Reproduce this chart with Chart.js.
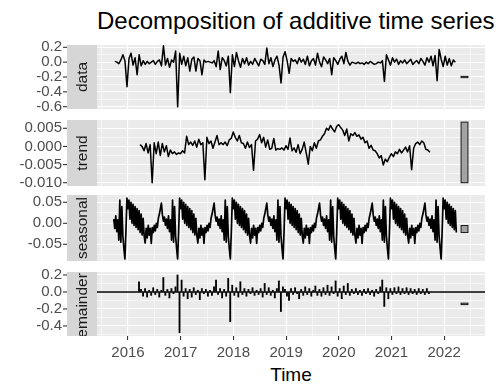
<!DOCTYPE html>
<html>
<head>
<meta charset="utf-8">
<script src="https://cdn.jsdelivr.net/npm/chart.js@4.4.1/dist/chart.umd.min.js"></script>
<style>
html,body{margin:0;padding:0;background:#fff;}
body{width:504px;height:385px;position:relative;overflow:hidden;font-family:"Liberation Sans",Arial,Helvetica,sans-serif;}
canvas{position:absolute;left:0;}
#title{position:absolute;left:97px;top:9px;font-size:24px;line-height:24px;color:#000;white-space:nowrap;}
#xlab{position:absolute;left:97px;width:388px;text-align:center;top:365px;font-size:19px;line-height:19px;color:#000;}
</style>
</head>
<body>
<div id="title">Decomposition of additive time series</div>
<div id="xlab">Time</div>
<script>
// ---------------- data ----------------
const dataStart = 2015.75, dataFreq = 26;
const dataValues = [
 0.01, 0.0, -0.02, 0.03, 0.10, 0.02, -0.33, 0.05, 0.12, -0.04,
 0.06, -0.17, 0.10, -0.05, 0.02, -0.03, 0.01, -0.02, 0.0, 0.02,
 -0.03, 0.01, 0.03, -0.05, 0.22, -0.04, 0.05, -0.07, 0.03, 0.0,
 0.15, -0.60, 0.12, -0.03, 0.08, -0.05, 0.06, -0.12, 0.04, 0.07,
 -0.12, 0.05, 0.02, -0.17, 0.03, 0.0, 0.01, 0.0, -0.01, 0.02,
 -0.06, 0.15, -0.10, 0.06, 0.02, -0.05, 0.08, -0.41, 0.10, -0.06,
 0.13, 0.02, -0.07, 0.05, -0.02, 0.06, -0.04, 0.01, -0.03, 0.05,
 0.0, -0.05, 0.04, 0.02, -0.03, 0.19, -0.02, 0.06, -0.06, 0.03,
 0.08, -0.04, -0.28, 0.07, 0.14, 0.02, -0.15, 0.05, 0.01, 0.03,
 -0.02, 0.06, 0.0, 0.04, -0.03, 0.08, -0.05, 0.02, 0.05, -0.04,
 0.12, 0.0, -0.06, 0.07, 0.03, -0.02, 0.05, -0.17, 0.06, 0.02,
 -0.03, 0.04, 0.08, -0.02, 0.13, 0.01, -0.04, 0.0, -0.01, -0.02,
 0.0, -0.02, -0.01, -0.03, 0.0, -0.02, 0.01, -0.01, -0.03, -0.02,
 0.0, -0.01, 0.02, -0.26, 0.10, 0.03, -0.04, 0.06, 0.0, 0.04,
 -0.03, 0.02, -0.01, 0.03, -0.02, 0.01, 0.04, -0.03, 0.0, 0.02,
 -0.02, 0.05, 0.01, -0.04, 0.06, 0.0, 0.08, -0.05, 0.09, -0.25,
 0.17, 0.04, -0.06, 0.08, -0.04, 0.05, -0.05, 0.03, 0.0
];

const trendStart = 2016.228, trendFreq = 26;
const trendValues = [
 0.0005, 0.0, -0.0012, 0.0008, -0.0018, 0.0005, -0.0100, 0.0010, -0.0020, 0.0012,
 -0.0025, 0.0008, -0.0015, 0.0002, -0.0028, -0.0010, -0.0020, -0.0015, -0.0022, -0.0018,
 -0.0020, -0.0012, -0.0018, 0.0028, 0.0005, 0.0012, 0.0003, 0.0015, -0.0002, 0.0020,
 0.0005, 0.0010, -0.0092, 0.0025, 0.0008, 0.0015, -0.0005, 0.0012, 0.0030, 0.0005,
 0.0010, 0.0005, 0.0012, 0.0002, 0.0018, 0.0022, 0.0040, 0.0025, 0.0015, 0.0030,
 0.0010, 0.0008, -0.0005, 0.0012, -0.0003, 0.0005, -0.0066, 0.0015, 0.0020, 0.0033,
 0.0010, 0.0025, -0.0002, 0.0018, -0.0008, -0.0005, 0.0022, -0.0010, -0.0006, -0.0008,
 -0.0004, -0.0010, 0.0002, -0.0008, 0.0023, -0.0012, -0.0004, -0.0016, 0.0005, -0.0020,
 -0.0008, 0.0012, -0.0018, -0.0049, 0.0000, -0.0012, 0.0010, -0.0005, 0.0015, 0.0018,
 0.0028, 0.0035, 0.0050, 0.0045, 0.0058, 0.0048, 0.0040, 0.0055, 0.0060, 0.0052,
 0.0045, 0.0030, 0.0048, 0.0015, 0.0035, 0.0030, 0.0038, 0.0028, 0.0032, 0.0020,
 0.0025, 0.0010, 0.0015, -0.0005, 0.0003, -0.0010, -0.0012, -0.0020, -0.0032, -0.0025,
 -0.0051, -0.0035, -0.0042, -0.0030, -0.0020, -0.0028, -0.0015, -0.0020, -0.0008, -0.0018,
 -0.0010, -0.0002, -0.0015, 0.0002, -0.0064, -0.0005, 0.0008, 0.0012, 0.0005, 0.0015,
 0.0010, -0.0008, -0.0010, -0.0016
];

// one seasonal period (52 weeks)
const seasonalStart = 2015.73, seasonalFreq = 52, seasonalPhase = 38, seasonalCount = 339;
const seasonalPattern = [
 0.035, 0.055, 0.010, 0.050, 0.000, 0.045, -0.005, 0.040, -0.010, 0.035,
 -0.015, 0.030, -0.022, 0.022, -0.028, 0.012, -0.030, -0.047, -0.012, -0.035,
 -0.005, -0.028, -0.012, -0.048, -0.010, -0.022, -0.005, -0.018, 0.000, -0.010,
 0.012, 0.022, 0.035, 0.048, 0.020, 0.005, 0.015, -0.005, 0.010, -0.012,
 0.018, -0.020, 0.008, -0.040, 0.055, -0.045, 0.040, -0.030, -0.060, -0.085,
 -0.020, 0.060
];
const seasonalValues = Array.from({length: seasonalCount}, (_, i) => seasonalPattern[(seasonalPhase + i) % seasonalPattern.length]);

const remainderStart = 2016.209, remainderFreq = 26;
const remainderValues = [
 0.12, 0.03, -0.05, 0.04, -0.06, 0.02, -0.04, 0.05, -0.03, 0.03,
 -0.06, 0.02, 0.17, -0.04, 0.03, -0.07, 0.04, -0.02, 0.06, 0.20,
 -0.48, 0.14, -0.05, 0.04, -0.08, 0.03, -0.06, 0.05, -0.03, 0.02,
 -0.09, 0.04, -0.02, 0.03, -0.05, 0.02, -0.04, 0.06, 0.14, -0.03,
 0.04, -0.07, 0.03, -0.05, 0.16, -0.35, 0.08, -0.04, 0.05, -0.06,
 0.12, -0.03, 0.04, -0.05, 0.03, -0.02, 0.05, -0.04, 0.02, -0.03,
 0.04, -0.06, 0.10, -0.03, 0.05, -0.04, 0.02, -0.07, 0.04, 0.13,
 -0.23, 0.06, 0.03, -0.05, -0.10, 0.04, -0.03, 0.05, -0.02, -0.08,
 0.03, -0.04, 0.06, -0.03, 0.04, -0.05, 0.02, 0.07, -0.04, 0.03,
 -0.05, 0.05, -0.03, 0.08, -0.04, 0.06, -0.02, 0.13, -0.05, 0.04,
 -0.08, 0.07, -0.03, 0.10, -0.04, 0.03, -0.02, 0.04, -0.03, 0.02,
 -0.04, 0.03, -0.02, 0.04, -0.03, 0.02, -0.05, 0.03, -0.02, 0.06,
 0.14, -0.17, 0.05, -0.08, 0.04, -0.03, 0.05, -0.02, 0.06, -0.03,
 0.04, -0.02, 0.05, -0.03, 0.04, -0.02, 0.03, -0.03, 0.04, -0.02,
 0.03, -0.03, 0.04, -0.02
];

// panel labels, tick values and scale-range bars
const panelLabels = ['data', 'trend', 'seasonal', 'remainder'];
const xMajorTicks = [2016, 2017, 2018, 2019, 2020, 2021, 2022];
const xMinorTicks = [2015.5, 2016.5, 2017.5, 2018.5, 2019.5, 2020.5, 2021.5, 2022.5];
const yMajorTicks = [
 [-0.6, -0.4, -0.2, 0, 0.2],
 [-0.010, -0.005, 0, 0.005],
 [-0.05, 0, 0.05],
 [-0.4, -0.2, 0, 0.2]
];
const yMinorTicks = [
 [-0.5, -0.3, -0.1, 0.1],
 [-0.0075, -0.0025, 0.0025],
 [-0.075, -0.025, 0.025],
 [-0.5, -0.3, -0.1, 0.1]
];
const yDecimals = [1, 3, 2, 1];
const rangeBarLow  = [-0.2083, -0.0100, -0.0220, -0.1483];
const rangeBarHigh = [-0.1917,  0.0067, -0.0053, -0.1317];
const rangeBarX = [2022.32, 2022.45];

// ---------------- layout ----------------
const xLimits = [2015.412, 2022.774];
const yLimits = [[-0.631, 0.231], [-0.01091, 0.00729], [-0.0898, 0.0674], [-0.518, 0.235]];
const panelTop = [45, 120, 195, 272];
const panelBottom = [109, 186, 261, 336];
const stripTextShift = [0, 0, 0, -4];
const PAGE_H = 385, AREA_LEFT = 97, AREA_RIGHT = 485, STRIP_LEFT = 67;
const FONT = '"Liberation Sans", Arial, Helvetica, sans-serif';
Chart.defaults.font.family = FONT;

function series(start, freq, vals) { return vals.map((v, i) => ({x: start + i / freq, y: v})); }
const near = (list, v) => list.some(m => Math.abs(m - v) < 1e-9);

const panelDeco = {
  id: 'panelDeco',
  beforeDraw(chart, args, o) {
    const {ctx, chartArea: a} = chart;
    ctx.save();
    ctx.fillStyle = '#ebebeb';
    ctx.fillRect(a.left, a.top, a.right - a.left, a.bottom - a.top);
    ctx.restore();
  },
  beforeDatasetsDraw(chart, args, o) {
    if (!o.zeroLine) return;
    const {ctx, chartArea: a} = chart;
    const y = chart.scales.y.getPixelForValue(0);
    ctx.save();
    ctx.strokeStyle = '#000'; ctx.lineWidth = 1.4;
    ctx.beginPath(); ctx.moveTo(a.left, y); ctx.lineTo(a.right, y); ctx.stroke();
    ctx.restore();
  },
  afterDatasetsDraw(chart, args, o) {
    const {ctx} = chart;
    const xs = chart.scales.x, ys = chart.scales.y;
    const x1 = xs.getPixelForValue(rangeBarX[0]), x2 = xs.getPixelForValue(rangeBarX[1]);
    const y1 = ys.getPixelForValue(o.range[1]), y2 = ys.getPixelForValue(o.range[0]);
    ctx.save();
    ctx.fillStyle = '#a3a3a3'; ctx.strokeStyle = '#1a1a1a'; ctx.lineWidth = 1;
    ctx.fillRect(x1, y1, x2 - x1, y2 - y1);
    ctx.strokeRect(x1, y1, x2 - x1, y2 - y1);
    ctx.restore();
  },
  afterDraw(chart, args, o) {
    const {ctx, chartArea: a} = chart;
    const ys = chart.scales.y;
    ctx.save();
    ctx.fillStyle = '#d6d6d6';
    ctx.fillRect(STRIP_LEFT, a.top, a.left - STRIP_LEFT, a.bottom - a.top);
    ctx.beginPath(); ctx.rect(STRIP_LEFT, a.top, a.left - STRIP_LEFT, a.bottom - a.top); ctx.clip();
    ctx.translate((STRIP_LEFT + a.left) / 2, (a.top + a.bottom) / 2);
    ctx.rotate(-Math.PI / 2);
    ctx.fillStyle = '#1a1a1a';
    ctx.font = '15.5px ' + FONT;
    ctx.textAlign = 'center'; ctx.textBaseline = 'middle';
    ctx.fillText(o.label, o.shift, 1);
    ctx.restore();
    ctx.save();
    ctx.strokeStyle = '#333'; ctx.lineWidth = 1.1;
    o.major.forEach(v => {
      const y = ys.getPixelForValue(v);
      ctx.beginPath(); ctx.moveTo(STRIP_LEFT - 4, y); ctx.lineTo(STRIP_LEFT, y); ctx.stroke();
    });
    ctx.restore();
  }
};

const panelData = [
  {type: 'line', points: series(dataStart, dataFreq, dataValues), width: 1.5},
  {type: 'line', points: series(trendStart, trendFreq, trendValues), width: 1.5},
  {type: 'line', points: series(seasonalStart, seasonalFreq, seasonalValues), width: 1.7},
  {type: 'bar', points: series(remainderStart, remainderFreq, remainderValues), width: 1.2}
];

panelLabels.forEach((label, p) => {
  const last = p === panelLabels.length - 1;
  const cTop = panelTop[p] - 10;
  const cBottom = last ? PAGE_H : panelBottom[p] + 10;
  const cv = document.createElement('canvas');
  cv.width = 504; cv.height = cBottom - cTop;
  cv.style.top = cTop + 'px';
  cv.style.width = '504px'; cv.style.height = (cBottom - cTop) + 'px';
  document.body.appendChild(cv);

  const major = yMajorTicks[p], minor = yMinorTicks[p];
  const yTickVals = major.concat(minor).sort((a, b) => a - b);
  const xTickVals = xMajorTicks.concat(xMinorTicks).sort((a, b) => a - b);
  const pd = panelData[p];
  const ds = pd.type === 'line'
    ? {type: 'line', data: pd.points, borderColor: '#000', borderWidth: pd.width, pointRadius: 0, fill: false, tension: 0, borderJoinStyle: 'round'}
    : {type: 'bar', data: pd.points, backgroundColor: '#000', borderWidth: 0, barThickness: pd.width, grouped: false};

  new Chart(cv, {
    type: pd.type,
    data: {datasets: [ds]},
    options: {
      responsive: false, animation: false, devicePixelRatio: 1,
      layout: {padding: {left: 0, right: 504 - AREA_RIGHT, top: 10, bottom: last ? 0 : 10}},
      plugins: {
        legend: {display: false}, tooltip: {enabled: false}, title: {display: false},
        panelDeco: {label: label, shift: stripTextShift[p], major: major, range: [rangeBarLow[p], rangeBarHigh[p]], zeroLine: pd.type === 'bar'}
      },
      scales: {
        x: {
          type: 'linear', min: xLimits[0], max: xLimits[1], offset: false,
          afterBuildTicks: s => { s.ticks = xTickVals.map(v => ({value: v})); },
          afterFit: s => { s.height = last ? PAGE_H - panelBottom[p] : 0; s.paddingLeft = 0; s.paddingRight = 0; },
          ticks: {display: last, autoSkip: false, maxRotation: 0, padding: 4, color: '#4d4d4d', font: {size: 15},
                  callback: v => near(xMajorTicks, v) ? String(v) : ''},
          grid: {offset: false, color: '#ffffff', drawTicks: last, tickLength: 4, tickWidth: 1.1,
                 lineWidth: c => (c.tick && near(xMajorTicks, c.tick.value)) ? 1.1 : 0.55,
                 tickColor: c => (c.tick && near(xMajorTicks, c.tick.value)) ? '#333333' : 'rgba(0,0,0,0)'},
          border: {display: false}
        },
        y: {
          type: 'linear', min: yLimits[p][0], max: yLimits[p][1],
          afterBuildTicks: s => { s.ticks = yTickVals.map(v => ({value: v})); },
          afterFit: s => { s.width = AREA_LEFT; s.paddingTop = 0; s.paddingBottom = 0; },
          ticks: {autoSkip: false, padding: 35, color: '#4d4d4d', font: {size: 15},
                  callback: v => near(major, v) ? Number(v).toFixed(yDecimals[p]) : ''},
          grid: {drawTicks: false, color: '#ffffff',
                 lineWidth: c => (c.tick && near(major, c.tick.value)) ? 1.1 : 0.55},
          border: {display: false}
        }
      }
    },
    plugins: [panelDeco]
  });
});
</script>
</body>
</html>
